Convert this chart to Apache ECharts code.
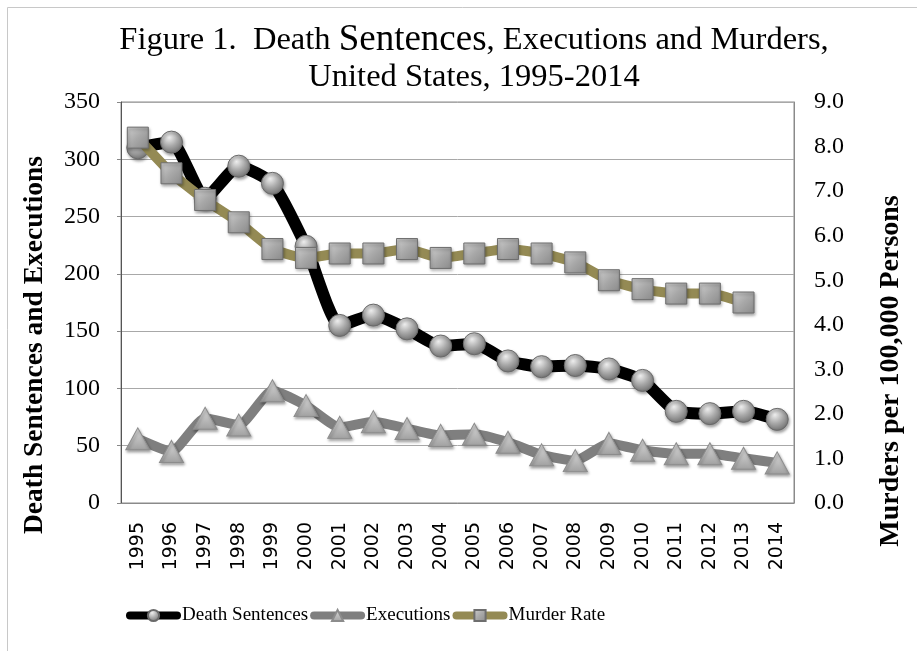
<!DOCTYPE html>
<html><head><meta charset="utf-8">
<script src="https://cdn.jsdelivr.net/npm/echarts@6/dist/echarts.min.js"></script>
<style>html,body{margin:0;padding:0;background:#fff}#c{width:917px;height:651px}</style>
</head><body><div id="c"></div>
<script>
const years = ['1995','1996','1997','1998','1999','2000','2001','2002','2003','2004','2005','2006','2007','2008','2009','2010','2011','2012','2013','2014'];
const deathSentences = [310, 315, 266, 294, 279, 224, 155, 164, 152, 137, 139, 124, 119, 120, 117, 107, 80, 78, 80, 73];
const executions = [56, 45, 74, 68, 98, 85, 66, 71, 65, 59, 60, 53, 42, 37, 52, 46, 43, 43, 39, 35];
const murderRate = [8.2, 7.4, 6.8, 6.3, 5.7, 5.5, 5.6, 5.6, 5.7, 5.5, 5.6, 5.7, 5.6, 5.4, 5.0, 4.8, 4.7, 4.7, 4.5, null];
const leftAxis = {min: 0, max: 350, interval: 50};
const rightAxis = {min: 0, max: 9, interval: 1};

const chart = echarts.init(document.getElementById('c'), null, {renderer: 'canvas'});
const serif = '"Liberation Serif", "Times New Roman", serif';

function mk(color, w) {
  return {color: color, width: w, type: 'solid', opacity: 1, cap: 'round', join: 'round'};
}
const circleFill = new echarts.graphic.RadialGradient(0.4, 0.3, 0.75, [
    {offset: 0, color: '#eeeeee'}, {offset: 0.5, color: '#a9a9a9'}, {offset: 1, color: '#6c6c6c'}]);
const triFill = new echarts.graphic.LinearGradient(0, 0, 0, 1, [
    {offset: 0, color: '#dcdcdc'}, {offset: 1, color: '#a0a0a0'}]);
const sqFill = new echarts.graphic.LinearGradient(0, 0, 1, 1, [
    {offset: 0, color: '#d0d0d0'}, {offset: 0.5, color: '#a8a8a8'}, {offset: 1, color: '#8a8a8a'}]);
const shadowProps = {shadowBlur: 3, shadowOffsetX: 1, shadowOffsetY: 2, shadowColor: 'rgba(0,0,0,0.35)'};

const option = {
  backgroundColor: '#fff',
  animation: false,
  grid: {left: 121, right: 123, top: 102, bottom: 148, show: true, borderColor: '#8a8a8a', borderWidth: 1, containLabel: false},
  graphic: [
    {type: 'line', shape: {x1: 7.5, y1: 7.5, x2: 917, y2: 7.5}, style: {stroke: '#c8c8c8', lineWidth: 1}},
    {type: 'line', shape: {x1: 7.5, y1: 7.5, x2: 7.5, y2: 651}, style: {stroke: '#c8c8c8', lineWidth: 1}},
    {type: 'text', x: 474, y: 22, style: {
      text: '{a|Figure 1.  Death }{b|Sentences}{a|, Executions and Murders,}\n{a|United States, 1995-2014}',
      textAlign: 'center', fill: '#000', lineHeight: 37,
      rich: {a: {fontFamily: serif, fontSize: 32.5, lineHeight: 37}, b: {fontFamily: serif, fontSize: 37, lineHeight: 37}}
    }},
    {type: 'text', x: 35, y: 345, rotation: Math.PI / 2, style: {
      text: 'Death Sentences and Executions', textAlign: 'center', textVerticalAlign: 'middle',
      fontFamily: serif, fontSize: 27.5, fontWeight: 'bold', fill: '#000'}},
    {type: 'text', x: 891, y: 371, rotation: Math.PI / 2, style: {
      text: 'Murders per 100,000 Persons', textAlign: 'center', textVerticalAlign: 'middle',
      fontFamily: serif, fontSize: 28, fontWeight: 'bold', fill: '#000'}}
  ],
  legend: {
    left: 121, top: 601, itemGap: 2, itemWidth: 47, itemHeight: 14,
    lineStyle: {width: 8, cap: 'round'},
    textStyle: {fontFamily: serif, fontSize: 19, color: '#000'},
    data: ['Death Sentences', 'Executions', 'Murder Rate']
  },
  xAxis: {
    type: 'category', data: years, boundaryGap: true,
    axisLine: {lineStyle: {color: '#8a8a8a'}}, axisTick: {show: false},
    axisLabel: {rotate: 90, fontFamily: '"DejaVu Sans", sans-serif', fontSize: 19, color: '#000', margin: 19}
  },
  yAxis: [
    {type: 'value', min: leftAxis.min, max: leftAxis.max, interval: leftAxis.interval,
     axisLine: {show: true, lineStyle: {color: '#555'}}, axisTick: {show: true, length: 4, lineStyle: {color: '#888'}},
     splitLine: {lineStyle: {color: '#a8a8a8'}},
     axisLabel: {fontFamily: serif, fontSize: 24, color: '#000', margin: 21}},
    {type: 'value', min: rightAxis.min, max: rightAxis.max, interval: rightAxis.interval, position: 'right',
     axisLine: {show: true, lineStyle: {color: '#8a8a8a'}}, axisTick: {show: false}, splitLine: {show: false},
     axisLabel: {fontFamily: serif, fontSize: 24, color: '#000', margin: 20, formatter: v => v.toFixed(1)}}
  ],
  series: [
    {name: 'Death Sentences', type: 'line', yAxisIndex: 0, data: deathSentences, smooth: 0.18,
     symbol: 'circle', symbolSize: 22, color: '#000',
     lineStyle: mk('#000', 12),
     itemStyle: Object.assign({color: circleFill, borderColor: '#6a6a6a', borderWidth: 1}, shadowProps), z: 2},
    {name: 'Executions', type: 'line', yAxisIndex: 0, data: executions, smooth: 0.18,
     symbol: 'triangle', symbolSize: [24, 22], color: '#7f7f7f',
     lineStyle: mk('#7f7f7f', 10),
     itemStyle: Object.assign({color: triFill, borderColor: '#8c8c8c', borderWidth: 1}, shadowProps), z: 3},
    {name: 'Murder Rate', type: 'line', yAxisIndex: 1, data: murderRate, smooth: 0.18,
     symbol: 'rect', symbolSize: 21, color: '#948a54',
     lineStyle: mk('#948a54', 10),
     itemStyle: Object.assign({color: sqFill, borderColor: '#6e6e6e', borderWidth: 1}, shadowProps), z: 4}
  ]
};
chart.setOption(option);
</script>
</body></html>
